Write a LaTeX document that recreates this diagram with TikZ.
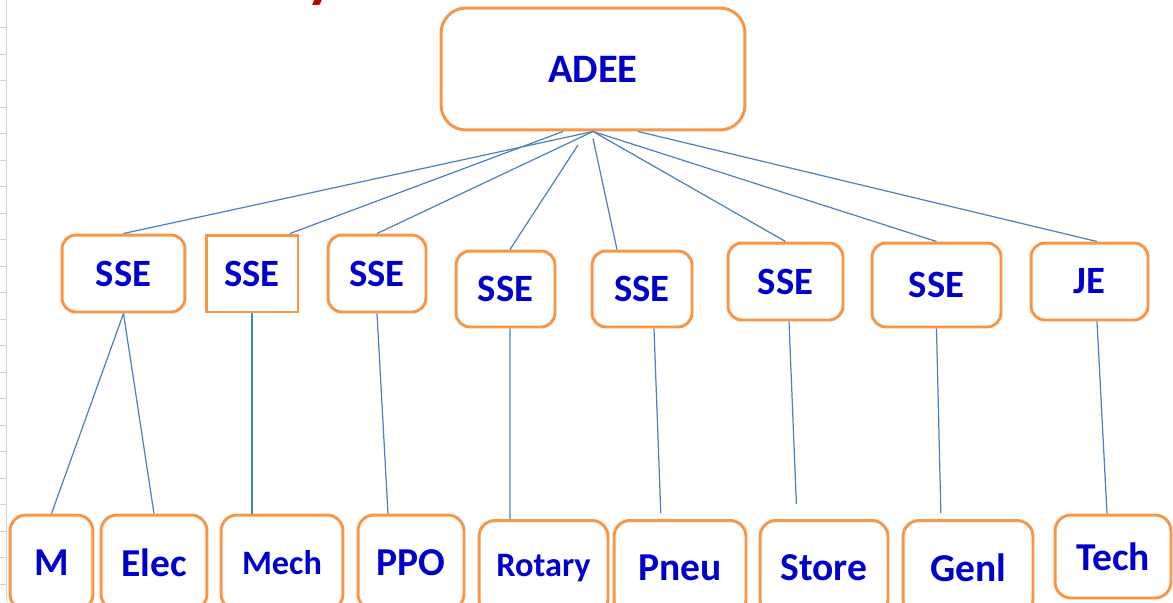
\documentclass[tikz,border=0pt]{standalone}
\usepackage{fontspec}
\setmainfont{Carlito}
\usetikzlibrary{calc}
\definecolor{boxorange}{RGB}{247,150,70}
\definecolor{linkblue}{RGB}{79,129,189}
\definecolor{textblue}{RGB}{0,0,204}
\definecolor{titlered}{RGB}{192,0,0}
\definecolor{gridgray}{RGB}{212,212,212}
\begin{document}
\begin{tikzpicture}[x=0.02cm,y=-0.02cm]
    \tikzstyle{box}=[rectangle,draw=boxorange,line width=1.7pt,rounded corners=0.28cm,inner sep=0pt,text=textblue,font=\fontsize{22}{25}\selectfont\bfseries,minimum height=1.54cm]
    \tikzstyle{leaf}=[box,minimum height=1.9cm,rounded corners=0.32cm,font=\fontsize{22.5}{25}\selectfont\bfseries]
    \tikzstyle{link}=[linkblue,line width=0.7pt]
    \tikzstyle{gridline}=[gridgray,line width=0.5pt]
    \useasboundingbox (0,0) rectangle (1173,602);
    \draw [gridline] (6,0) -- (6,602);
    \foreach \k in {0,...,21}
        \draw [gridline] (0,27.5+26.5*\k) -- (6,27.5+26.5*\k);
    \node (title) at (306,-5) [anchor=base west,inner sep=0pt,text=titlered,font=\fontsize{36}{40}\selectfont\bfseries] {y};
    \node (adee)   at (593,69)      [box,minimum width=6.08cm,minimum height=2.44cm,rounded corners=0.5cm,font=\fontsize{23}{26}\selectfont\bfseries] {ADEE};
    \node (sse1)   at (123.5,273.5) [box,minimum width=2.46cm] {SSE};
    \node (sse2)   at (252,273.5)   [box,minimum width=1.84cm,sharp corners] {SSE};
    \node (sse3)   at (377,273.5)   [box,minimum width=1.96cm] {SSE};
    \node (sse4)   at (505.5,289)   [box,minimum width=1.98cm,minimum height=1.52cm] {SSE};
    \node (sse5)   at (642,289)     [box,minimum width=2.0cm,minimum height=1.52cm] {SSE};
    \node (sse6)   at (785.5,281.5) [box,minimum width=2.3cm] {SSE};
    \node (sse7)   at (936.5,285)   [box,minimum width=2.58cm,minimum height=1.68cm] {SSE};
    \node (je)     at (1089.5,281.5) [box,minimum width=2.34cm] {JE};
    \node (m)      at (51.5,562.5)  [leaf,minimum width=1.66cm] {M};
    \node (elec)   at (154,562.5)   [leaf,minimum width=2.12cm] {Elec};
    \node (mech)   at (282,562.5)   [leaf,minimum width=2.44cm,font=\fontsize{19.5}{22}\selectfont\bfseries] {Mech};
    \node (ppo)    at (411,562.5)   [leaf,minimum width=2.12cm] {PPO};
    \node (rotary) at (543.5,568)   [leaf,minimum width=2.58cm,font=\fontsize{19.5}{22}\selectfont\bfseries] {Rotary};
    \node (pneu)   at (680,568)     [leaf,minimum width=2.64cm] {Pneu};
    \node (store)  at (824,568)     [leaf,minimum width=2.56cm] {Store};
    \node (genl)   at (968,568)     [leaf,minimum width=2.6cm] {Genl};
    \node (tech)   at (1113,556.5)  [leaf,minimum width=2.32cm,minimum height=1.66cm] {Tech};
    \coordinate (stub4) at (578,145);
    \draw [link] (adee.south) -- (sse1.north);
    \draw [link] ($(adee.south)+(-30,0)$) -- ($(sse2.north)+(38,0)$);
    \draw [link] (adee.south) -- (sse3.north);
    \draw [link] ($(sse4.north)+(4.5,0)$) -- (stub4);
    \draw [link] ($(adee.south)+(0,7)$) -- ($(sse5.north)+(-25,0)$);
    \draw [link] (adee.south) -- (sse6.north);
    \draw [link] (adee.south) -- (sse7.north);
    \draw [link] ($(adee.south)+(45,0)$) -- ($(je.north)+(7.5,0)$);
    \draw [link] (sse1.south) -- (m.north);
    \draw [link] (sse1.south) -- (elec.north);
    \draw [link] (sse2.south) -- ($(mech.north)+(-30,0)$);
    \draw [link] (sse3.south) -- ($(ppo.north)+(-23,0)$);
    \draw [link] ($(sse4.south)+(4.5,0)$) -- ($(rotary.north)+(-33.5,0)$);
    \draw [link,shorten >=0.12cm] ($(sse5.south)+(12,0)$) -- ($(pneu.north)+(-19,0)$);
    \draw [link,shorten >=0.3cm] ($(sse6.south)+(3.5,0)$) -- ($(store.north)+(-27,0)$);
    \draw [link,shorten >=0.12cm] (sse7.south) -- ($(genl.north)+(-27,0)$);
    \draw [link] ($(je.south)+(7.5,0)$) -- ($(tech.north)+(-6,0)$);
\end{tikzpicture}
\end{document}
